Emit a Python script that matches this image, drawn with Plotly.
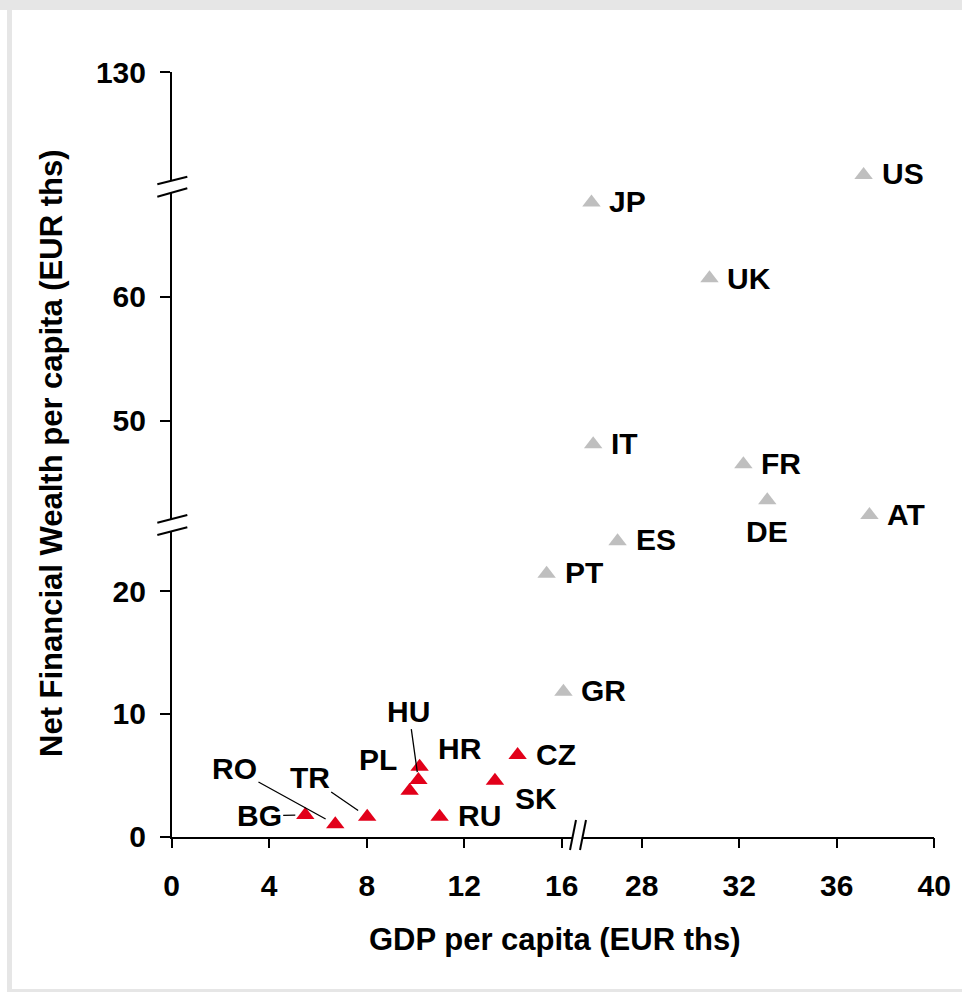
import plotly.graph_objects as go

W, H = 962, 992
FONT = "Liberation Sans"

# ---------------- data ----------------
countries = ["US", "JP", "UK", "IT", "FR", "DE", "AT", "ES", "PT", "GR",
             "CZ", "SK", "HR", "HU", "PL", "RU", "TR", "RO", "BG"]
gdp = [37.10, 25.94, 30.78, 26.01, 32.17, 33.15, 37.34, 27.01, 15.38, 16.07,
       14.19, 13.26, 10.17, 10.12, 9.76, 10.99, 8.02, 6.71, 5.48]
nfw = [121.7, 67.6, 61.5, 48.1, 46.5, 43.6, 42.4, 24.05, 21.4, 11.8,
       6.65, 4.56, 5.70, 4.62, 3.75, 1.63, 1.63, 1.01, 1.76]
region = ["mature"] * 10 + ["cee"] * 9

x_ticks_left = [0, 4, 8, 12, 16]
x_ticks_right = [28, 32, 36, 40]
y_ticks_low = [0, 10, 20]
y_ticks_mid = [50, 60]
y_ticks_top = [130]

x_range_left = [0, 16.45]
x_range_right = [25.58, 40]
y_range_low = [0, 24.89]
y_range_mid = [42.08, 68.40]
y_range_top = [121.24, 130]

x_title = "GDP per capita (EUR ths)"
y_title = "Net Financial Wealth per capita (EUR ths)"

colors = {"mature": "#BFBFBF", "cee": "#E2001A"}

# label placement (anchor, xshift px, yshift px) ; arrows: (ax, ay, standoff)
label_pos = {
    "US": ("left", 16, 1), "JP": ("left", 16, 1), "UK": ("left", 16, 0),
    "IT": ("left", 16, 1), "FR": ("left", 16, 1), "DE": ("center", 0, -31),
    "AT": ("left", 16, 1), "ES": ("left", 16, 2), "PT": ("left", 16, 1),
    "GR": ("left", 16, 1), "CZ": ("left", 16, 1), "RU": ("left", 16, 1),
    "SK": ("center", 41, -18), "HR": ("center", 40, 18), "PL": ("center", -32, 31),
}
arrow_pos = {
    "HU": (-9.6, -68.8, 8), "RO": (-100.8, -55.5, 11),
    "TR": (-57.5, -39.5, 11), "BG": (-46.1, 0.5, 10),
}


def fx(p):
    return p / W


def fy(p):
    return 1 - p / H


def xseg(v):
    return "x" if v <= x_range_left[1] else "x2"


def yseg(v):
    if v <= y_range_low[1]:
        return "y"
    if v <= y_range_mid[1]:
        return "y2"
    return "y3"


fig = go.Figure()

groups = {}
for c, gx, gy, r in zip(countries, gdp, nfw, region):
    groups.setdefault((r, xseg(gx), yseg(gy)), []).append((c, gx, gy))

for (r, xs, ys), pts in groups.items():
    fig.add_trace(go.Scatter(
        x=[p[1] for p in pts], y=[p[2] for p in pts], text=[p[0] for p in pts],
        xaxis=xs, yaxis=ys, mode="markers",
        marker=dict(symbol="triangle-up", size=16, color=colors[r]),
        cliponaxis=False, showlegend=False, hoverinfo="text"))

lab_font = dict(family=FONT, size=30, color="black", weight="bold")
annotations = []
for c, gx, gy in zip(countries, gdp, nfw):
    xs, ys = xseg(gx), yseg(gy)
    if c in arrow_pos:
        ax, ay, so = arrow_pos[c]
        annotations.append(dict(x=gx, y=gy, xref=xs, yref=ys, text=c, font=lab_font,
                                showarrow=True, ax=ax, ay=ay, arrowhead=0, arrowwidth=1.3,
                                arrowcolor="black", standoff=so))
    else:
        anc, xsh, ysh = label_pos[c]
        annotations.append(dict(x=gx, y=gy, xref=xs, yref=ys, text=c, font=lab_font,
                                showarrow=False, xanchor=anc, yanchor="middle",
                                xshift=xsh, yshift=ysh))

title_font = dict(family=FONT, size=31, color="black", weight="bold")
annotations.append(dict(x=fx(554.5), y=fy(939), xref="paper", yref="paper", text=x_title,
                        showarrow=False, xanchor="center", yanchor="middle", font=title_font))
annotations.append(dict(x=fx(51), y=fy(454), xref="paper", yref="paper", text=y_title,
                        showarrow=False, xanchor="center", yanchor="middle", textangle=-90,
                        font=title_font))

axis_common = dict(showline=True, linecolor="black", linewidth=1.5, ticks="outside",
                   ticklen=10, tickwidth=1.5, tickcolor="black", showgrid=False,
                   zeroline=False, fixedrange=True, automargin=False,
                   tickfont=dict(family=FONT, size=30, color="black", weight="bold"))

fig.update_layout(
    width=W, height=H, autosize=False,
    margin=dict(l=0, r=0, t=0, b=0, pad=0, autoexpand=False),
    paper_bgcolor="white", plot_bgcolor="rgba(0,0,0,0)",
    xaxis=dict(domain=[fx(171.7), fx(572.7)], range=x_range_left, tickvals=x_ticks_left,
               anchor="y", ticklabelstandoff=12, **axis_common),
    xaxis2=dict(domain=[fx(582.7), fx(934.3)], range=x_range_right, tickvals=x_ticks_right,
                anchor="y", ticklabelstandoff=12, **axis_common),
    yaxis=dict(domain=[fy(836.7), fy(531)], range=y_range_low, tickvals=y_ticks_low,
               anchor="x", ticklabelstandoff=8, **axis_common),
    yaxis2=dict(domain=[fy(519), fy(192.6)], range=y_range_mid, tickvals=y_ticks_mid,
                anchor="x", ticklabelstandoff=8, **axis_common),
    yaxis3=dict(domain=[fy(180.6), fy(72)], range=y_range_top, tickvals=y_ticks_top,
                anchor="x", ticklabelstandoff=8, **axis_common),
    annotations=annotations,
)

shapes = []
gray = "#E6E6E6"
for x0, y0, x1, y1 in [(0, 0, W, 10), (7, 0, 12, H), (7, 989, W, H)]:
    shapes.append(dict(type="rect", xref="paper", yref="paper", x0=fx(x0), x1=fx(x1),
                       y0=fy(y1), y1=fy(y0), fillcolor=gray, line=dict(width=0), layer="below"))
# axis-break marks
for (x0, y0, x1, y1) in [(157.3, 522.7, 187.3, 515.0), (157.3, 535.0, 187.3, 527.3),
                         (157.3, 184.3, 187.3, 176.7), (157.3, 196.7, 187.3, 188.3),
                         (570, 850, 576, 820), (580, 850, 586, 820)]:
    shapes.append(dict(type="line", xref="paper", yref="paper", x0=fx(x0), y0=fy(y0),
                       x1=fx(x1), y1=fy(y1), line=dict(color="black", width=2)))
fig.update_layout(shapes=shapes)

fig.write_html(
    "out.html",
    config={"displayModeBar": False},
    post_script=("document.body.style.margin='0';"
                 "document.body.style.overflow='hidden';"
                 "document.documentElement.style.overflow='hidden';"),
)
